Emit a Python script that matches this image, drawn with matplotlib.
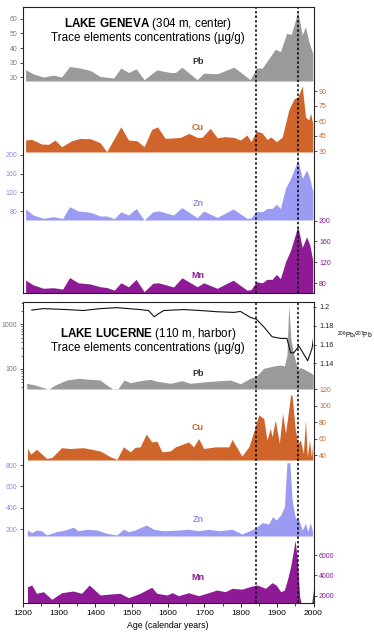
import matplotlib
matplotlib.use("Agg")
import matplotlib.pyplot as plt
from matplotlib.ticker import MultipleLocator, FixedLocator, LogLocator, NullFormatter

plt.rcParams['font.family'] = ['Liberation Sans', 'DejaVu Sans']
plt.rcParams['mathtext.fontset'] = 'custom'
plt.rcParams['mathtext.rm'] = 'Liberation Sans'
plt.rcParams['mathtext.bf'] = 'Liberation Sans:bold'

# ---------------- data: Lake Geneva ----------------
gen_pb_years = [1208, 1229, 1257, 1284, 1307, 1329, 1358, 1386, 1413, 1450, 1470, 1491, 1512, 1534,
                1569, 1606, 1620, 1638, 1680, 1698, 1735, 1781, 1826, 1843, 1859, 1895, 1909, 1926,
                1939, 1957, 1969, 1978, 1987, 1998]
gen_pb = [25.2, 22.5, 20.3, 21.6, 20.3, 27.5, 26.4, 24.8, 20.7, 19.6, 26.4, 23.4, 25.9, 18.5,
          25.2, 23.4, 23.4, 27.0, 18.5, 23.0, 22.5, 27.0, 18.5, 26.4, 26.4, 39.2, 37.6, 50.0,
          49.4, 64.7, 49.0, 54.6, 44.4, 36.5]

gen_cu_years = [1208, 1225, 1252, 1271, 1289, 1307, 1335, 1358, 1386, 1413, 1431, 1470, 1491, 1514,
                1534, 1555, 1571, 1592, 1634, 1657, 1680, 1693, 1716, 1735, 1757, 1781, 1799, 1817,
                1828, 1843, 1859, 1872, 1883, 1898, 1914, 1932, 1946, 1957, 1969, 1978, 1987, 1992, 1998]
gen_cu = [41, 41.6, 37, 36.7, 41, 34.3, 40.3, 42.6, 42.3, 38.3, 29.3, 54.2, 41, 40.3,
          34.3, 51.6, 54.2, 42.6, 43.6, 47.6, 43.6, 43.6, 52.6, 43.3, 44.3, 43.6, 41, 46,
          39.3, 50, 48, 41.6, 44, 39.3, 44, 71, 82, 84, 95, 64, 61, 68, 57.5]

gen_znmn_years = [1208, 1229, 1257, 1284, 1310, 1329, 1353, 1386, 1413, 1431, 1452, 1470, 1491, 1512,
                  1534, 1558, 1574, 1615, 1638, 1680, 1698, 1735, 1779, 1817, 1828, 1843, 1859, 1872,
                  1886, 1898, 1909, 1923, 1937, 1957, 1969, 1981, 1990, 1998]
gen_zn = [84.9, 72, 65, 68.5, 65, 89.8, 80.6, 77.9, 70, 70, 64.3, 79, 72, 86,
          61.5, 79, 81, 72, 88, 66.4, 80.6, 67, 84.9, 65, 66, 80, 79, 86,
          86, 94.9, 86, 129, 150, 189, 150, 168, 150, 121.7]
gen_mn = [86, 77, 70.5, 71.7, 69, 91, 81, 78.7, 73.5, 72, 67, 81, 73.5, 87.6,
          64, 80, 81, 73, 90.7, 73.5, 81, 70.5, 86, 67, 68, 83, 81, 87.6,
          87.6, 97, 89, 121, 143.5, 189, 148.6, 168.8, 153, 124]

# ---------------- data: Lake Lucerne ----------------
luc_pb_years = [1211, 1234, 1271, 1289, 1321, 1353, 1385, 1413, 1431, 1450, 1461, 1479, 1496, 1523,
                1551, 1569, 1606, 1638, 1661, 1707, 1744, 1771, 1799, 1826, 1843, 1863, 1891, 1909,
                1920, 1927, 1932, 1938, 1946, 1957, 1964, 1978, 1992, 1999]
luc_pb = [47.9, 43.9, 35.1, 43.9, 56.7, 61.9, 58.8, 56.7, 43.9, 35.1, 35.1, 56.7, 49.4, 54.8,
          58.8, 53.5, 47.9, 54.8, 47.9, 52.3, 54.8, 56.7, 46.8, 61.9, 69.7, 103.7, 116.7, 122.9,
          116.7, 205, 2700, 446, 205, 95, 109, 95, 82.6, 74.6]

luc_ratio_years = [1225, 1257, 1321, 1367, 1413, 1459, 1523, 1546, 1562, 1571, 1588, 1643, 1689, 1735,
                   1781, 1799, 1826, 1843, 1863, 1886, 1909, 1927, 1937, 1946, 1960, 1984, 1996, 2000]
luc_ratio = [1.1965, 1.198, 1.197, 1.196, 1.198, 1.199, 1.197, 1.196, 1.1894, 1.192, 1.196, 1.197,
             1.196, 1.1947, 1.194, 1.195, 1.1888, 1.1867, 1.1788, 1.1683, 1.1665, 1.1665, 1.1513,
             1.1513, 1.1584, 1.1429, 1.156, 1.1665]

luc_cu_years = [1213, 1222, 1238, 1266, 1280, 1307, 1330, 1367, 1413, 1441, 1459, 1477, 1496, 1509,
                1523, 1540, 1555, 1569, 1583, 1606, 1620, 1656, 1670, 1684, 1698, 1730, 1767, 1776,
                1803, 1822, 1840, 1849, 1863, 1872, 1881, 1886, 1895, 1906, 1915, 1923, 1937, 1941,
                1950, 1957, 1964, 1972, 1978, 1983, 1989, 1994, 1998]
luc_cu = [48.2, 41.2, 47, 36, 37, 49, 48, 49, 45, 38, 34.7, 50, 44, 49.4,
          50, 65.6, 56, 57, 44, 45, 50, 56, 50, 60, 48, 50, 50, 59,
          38.8, 50, 74.5, 88.8, 84.7, 58.3, 72.6, 62.3, 82.7, 54.3, 90.8, 66.5, 113, 113,
          70.5, 54.3, 58.3, 42, 82.7, 38, 58.3, 38, 54.3]

luc_zn_years = [1213, 1225, 1238, 1252, 1266, 1293, 1317, 1339, 1353, 1376, 1404, 1431, 1459, 1477,
                1491, 1509, 1540, 1560, 1587, 1629, 1656, 1684, 1711, 1739, 1776, 1803, 1840, 1859,
                1877, 1887, 1897, 1910, 1920, 1927, 1935, 1941, 1950, 1960, 1969, 1978, 1984, 1991, 1997]
luc_zn = [193, 168, 193, 186, 147, 178, 193, 219, 186, 200, 193, 162, 147, 200,
          178, 193, 240, 200, 186, 193, 200, 186, 200, 186, 200, 156, 209, 262,
          250, 318, 287, 334, 411, 822, 822, 474, 303, 287, 193, 256, 178, 262, 186]

luc_mn_years = [1213, 1225, 1238, 1257, 1280, 1307, 1339, 1362, 1383, 1413, 1441, 1468, 1491, 1523,
                1540, 1555, 1569, 1597, 1611, 1629, 1656, 1684, 1711, 1734, 1757, 1776, 1803, 1831,
                1845, 1868, 1886, 1897, 1910, 1920, 1928, 1937, 1945, 1949, 1955, 1962, 1966, 1995, 2000]
luc_mn = [2891, 3059, 2238, 2396, 1644, 2297, 2465, 2238, 3059, 2069, 2168, 2238, 1802, 2238,
          2564, 2832, 2238, 2069, 2297, 2000, 2297, 2000, 2297, 2564, 2396, 2733, 2650, 2960,
          3059, 2733, 3287, 3059, 2396, 2564, 3550, 4870, 6500, 7500, 5860, 1900, 1280, 1280, 2600]

marker_years = [1843, 1957]

# ---------------- colours ----------------
C_PB = '#9a9a9a'
C_CU = '#d0652c'
C_ZN = '#9b9bf3'
C_MN = '#8e1b95'
T_PB = '#7a7a7a'
T_CU = '#c8692f'
T_ZN = '#8f8fe8'
T_MN = '#8a1a92'

W, H = 374, 643
XL, XR = 22.7, 313.5
fig = plt.figure(figsize=(W / 100, H / 100), dpi=100)
fig.patch.set_facecolor('white')


def ax_px(top, bot):
    return fig.add_axes([XL / W, 1 - bot / H, (XR - XL) / W, (bot - top) / H])


def band(top, bot, yrs, vals, ylim, color, side, ticks, tcolor, label, ly, lcolor, log=False):
    ax = ax_px(top, bot)
    ax.set_facecolor('none')
    if log:
        ax.set_yscale('log')
    ax.set_xlim(1200, 2000)
    ax.set_ylim(*ylim)
    ax.fill_between(yrs, ylim[0], vals, color=color, lw=0)
    for s in ax.spines.values():
        s.set_visible(False)
    ax.set_xticks([])
    ax.yaxis.set_ticks_position(side)
    if not log:
        ax.set_yticks(ticks)
    else:
        ax.yaxis.set_major_locator(FixedLocator(ticks))
        ax.yaxis.set_minor_locator(LogLocator(base=10, subs=range(2, 10)))
        ax.yaxis.set_minor_formatter(NullFormatter())
        ax.set_yticklabels([str(t) for t in ticks])
        ax.tick_params(axis='y', which='minor', length=1.6, width=0.5)
    ax.tick_params(axis='y', which='major', direction='out', length=2.5, width=0.6,
                   labelsize=5, pad=1.5, labelcolor=tcolor, color='#333333')
    ax.tick_params(axis='y', which='minor', direction='out', color='#333333')
    fig.text(198 / W, 1 - ly / H, label, ha='center', va='center', fontsize=6.5,
             fontweight='bold', color=lcolor)
    return ax


def frame(top, bot, xticks=False):
    ax = ax_px(top, bot)
    ax.set_facecolor('none')
    ax.set_xlim(1200, 2000)
    ax.set_ylim(0, 1)
    ax.set_yticks([])
    for s in ax.spines.values():
        s.set_linewidth(0.8)
        s.set_color('#222222')
    for yr in marker_years:
        ax.axvline(yr, color='black', lw=1.1, ls=(0, (1.6, 1.4)))
    if xticks:
        ax.xaxis.set_major_locator(MultipleLocator(100))
        ax.xaxis.set_minor_locator(MultipleLocator(50))
        ax.tick_params(axis='x', which='major', direction='out', length=3, width=0.6,
                       labelsize=6, pad=2)
        ax.tick_params(axis='x', which='minor', direction='out', length=2, width=0.5)
        ax.set_xlabel('Age (calendar years)', fontsize=6.3, labelpad=3)
    else:
        ax.set_xticks([])
    return ax


# ---------------- Lake Geneva ----------------
band(7, 81, gen_pb_years, gen_pb, (17.6, 68), C_PB, 'left', [20, 30, 40, 50, 60], T_PB, 'Pb', 61, '#333333')
band(81, 152, gen_cu_years, gen_cu, (29, 100), C_CU, 'right', [30, 45, 60, 75, 90], T_CU, 'Cu', 128, T_CU)
band(152, 220, gen_znmn_years, gen_zn, (61.5, 206), C_ZN, 'left', [80, 120, 160, 200], T_ZN, 'Zn', 203, T_ZN)
band(220, 293, gen_znmn_years, gen_mn, (61.5, 201), C_MN, 'right', [80, 120, 160, 200], T_MN, 'Mn', 275, T_MN)
frame(7, 293)
fig.text(148 / W, 1 - 24 / H, r'$\bf{LAKE\ GENEVA}$ (304 m, center)', ha='center', va='center', fontsize=8.4)
fig.text(148 / W, 1 - 38.5 / H, 'Trace elements concentrations (µg/g)', ha='center', va='center', fontsize=8.4)

# ---------------- Lake Lucerne ----------------
axpb = band(302, 389, luc_pb_years, luc_pb, (35.7, 3150), C_PB, 'left', [100, 1000], T_PB, 'Pb', 373, '#333333', log=True)
axr = axpb.twinx()
axr.set_facecolor('none')
axr.set_xlim(1200, 2000)
axr.set_ylim(1.113, 1.205)
axr.plot(luc_ratio_years, luc_ratio, color='#111111', lw=0.8)
for s in axr.spines.values():
    s.set_visible(False)
axr.set_yticks([1.14, 1.16, 1.18, 1.2])
axr.set_yticklabels(['1.14', '1.16', '1.18', '1.2'])
axr.tick_params(axis='y', direction='out', length=2.5, width=0.6, labelsize=5.2, pad=1.5,
                labelcolor='#222222', color='#333333')
fig.text(373 / W, 1 - 335.5 / H, r'$^{206}$Pb/$^{207}$Pb', ha='right', va='center', fontsize=4.8)

band(389, 460, luc_cu_years, luc_cu, (34, 120.4), C_CU, 'right', [40, 60, 80, 100, 120], T_CU, 'Cu', 427, T_CU)
band(460, 536, luc_zn_years, luc_zn, (137, 847), C_ZN, 'left', [200, 400, 600, 800], T_ZN, 'Zn', 519, T_ZN)
band(536, 603, luc_mn_years, luc_mn, (1277, 7911), C_MN, 'right', [2000, 4000, 6000], T_MN, 'Mn', 578, T_MN)
frame(302, 603, xticks=True)
fig.text(148 / W, 1 - 333.5 / H, r'$\bf{LAKE\ LUCERNE}$ (110 m, harbor)', ha='center', va='center', fontsize=8.4)
fig.text(148 / W, 1 - 347.5 / H, 'Trace elements concentrations (µg/g)', ha='center', va='center', fontsize=8.4)

fig.savefig('out.png', dpi=100, facecolor='white')
